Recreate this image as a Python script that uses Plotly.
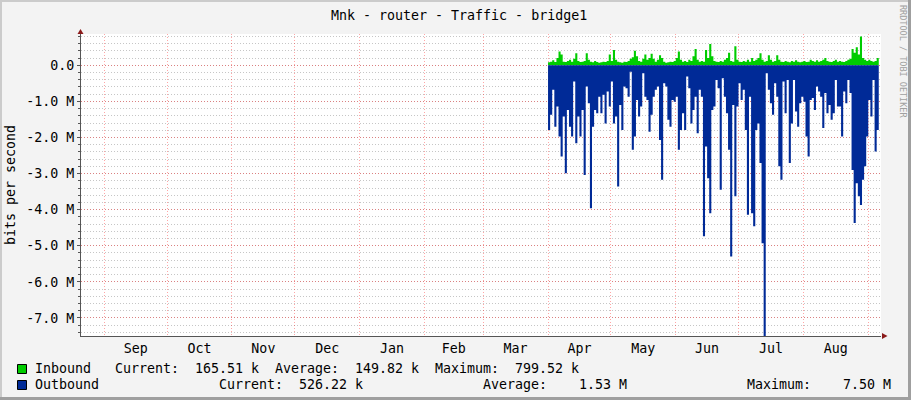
import plotly.graph_objects as go
import pandas as pd

# canvas and plot box (pixels), rrdtool-like layout
W, H = 911, 400
L, R, T, B = 81, 881, 34, 336
FONT = "DejaVu Sans Mono, monospace"

title = "Mnk - router - Traffic - bridge1"
y_title = "bits per second"
watermark = "RRDTOOL / TOBI OETIKER"

# daily samples (Mbit/s), starting 1 Apr
inbound_m = [
    0.08, 0.10, 0.14, 0.09, 0.20, 0.38, 0.30, 0.10, 0.09, 0.12,
    0.15, 0.10, 0.18, 0.33, 0.12, 0.09, 0.10, 0.12, 0.33, 0.15,
    0.10, 0.08, 0.12, 0.09, 0.07, 0.08, 0.10, 0.09, 0.12, 0.30,
    0.12, 0.42, 0.15, 0.10, 0.08, 0.07, 0.10, 0.09, 0.12, 0.18,
    0.22, 0.40, 0.25, 0.12, 0.10, 0.18, 0.30, 0.15, 0.20, 0.32,
    0.18, 0.10, 0.15, 0.28, 0.20, 0.10, 0.07, 0.08, 0.10, 0.09,
    0.12, 0.20, 0.38, 0.15, 0.10, 0.12, 0.09, 0.15, 0.12, 0.25,
    0.45, 0.15, 0.10, 0.12, 0.10, 0.42, 0.20, 0.59, 0.25, 0.12,
    0.10, 0.09, 0.12, 0.10, 0.15, 0.20, 0.35, 0.12, 0.10, 0.53,
    0.15, 0.10, 0.09, 0.12, 0.10, 0.15, 0.10, 0.20, 0.12, 0.15,
    0.20, 0.33, 0.15, 0.10, 0.12, 0.28, 0.15, 0.10, 0.12, 0.28,
    0.15, 0.10, 0.09, 0.12, 0.10, 0.08, 0.12, 0.10, 0.14, 0.10,
    0.08, 0.10, 0.12, 0.09, 0.10, 0.15, 0.12, 0.10, 0.14, 0.10,
    0.12, 0.15, 0.20, 0.12, 0.10, 0.09, 0.12, 0.15, 0.10, 0.12,
    0.10, 0.09, 0.12, 0.15, 0.18, 0.45, 0.35, 0.50, 0.30, 0.80,
    0.20, 0.15, 0.12, 0.15, 0.12, 0.10, 0.12, 0.20, 0.17,
]
outbound_m = [
    1.79, 1.37, 0.68, 1.70, 1.14, 1.97, 2.53, 1.42, 2.99, 1.24,
    1.70, 1.97, 0.45, 2.16, 1.42, 1.97, 1.24, 3.04, 0.59, 1.05,
    3.96, 1.70, 1.24, 1.33, 0.87, 1.33, 0.82, 1.61, 0.73, 1.14,
    0.45, 1.61, 1.42, 3.36, 1.10, 1.79, 0.59, 0.64, 0.87, 0.18,
    2.34, 1.97, 0.96, 1.42, 1.14, 0.22, 0.87, 0.96, 1.84, 1.37,
    0.87, 0.68, 0.59, 2.07, 3.17, 0.50, 0.59, 1.51, 1.70, 0.96,
    1.01, 0.87, 2.34, 1.79, 1.33, 1.79, 0.31, 0.64, 1.61, 1.24,
    0.87, 1.88, 0.68, 0.87, 4.74, 2.25, 3.13, 4.10, 1.24, 1.14,
    0.41, 0.64, 3.45, 0.36, 0.87, 1.33, 2.34, 5.30, 1.10, 3.63,
    1.14, 0.50, 0.96, 0.68, 1.79, 4.14, 0.87, 4.10, 4.46, 1.79,
    1.61, 2.71, 4.93, 7.50, 0.22, 0.68, 1.05, 1.37, 0.50, 0.87,
    2.80, 3.17, 0.45, 1.33, 0.41, 2.71, 1.61, 0.41, 1.28, 1.70,
    1.05, 0.87, 1.01, 1.97, 2.53, 0.96, 0.91, 1.24, 0.59, 0.73,
    0.87, 1.74, 0.77, 1.33, 1.10, 1.51, 1.33, 0.41, 1.14, 1.14,
    1.97, 0.73, 1.05, 0.41, 0.77, 2.90, 4.37, 3.27, 3.63, 3.87,
    3.17, 2.80, 1.97, 0.96, 1.42, 0.41, 2.39, 1.79, 1.42,
]
days = pd.date_range("2017-04-01", periods=len(outbound_m), freq="D")

y_tick_vals = [0, -1, -2, -3, -4, -5, -6, -7]
y_tick_text = ["0.0", "-1.0 M", "-2.0 M", "-3.0 M", "-4.0 M", "-5.0 M", "-6.0 M", "-7.0 M"]

inbound_stats = ["165.51 k", "149.82 k", "799.52 k"]
outbound_stats = ["526.22 k", "1.53 M", "7.50 M"]

GREEN = "#00CC00"
BLUE = "#002A97"


def px(x):
    return (x - L) / (R - L)


def py(y):
    return (B - y) / (B - T)


fig = go.Figure()
fig.add_trace(go.Scatter(
    x=days, y=[v * 1e6 for v in inbound_m], mode="lines", line_shape="hv",
    line=dict(width=0, color=GREEN), fill="tozeroy", fillcolor=GREEN,
    name="Inbound", hoverinfo="skip"))
fig.add_trace(go.Scatter(
    x=days, y=[-v * 1e6 for v in outbound_m], mode="lines", line_shape="hv",
    line=dict(width=0, color=BLUE), fill="tozeroy", fillcolor=BLUE,
    name="Outbound", hoverinfo="skip"))

red_grid = "rgba(255,0,0,0.35)"
gray_grid = "rgba(128,128,128,0.45)"

fig.update_xaxes(
    type="date", range=["2016-08-20 20:53", "2017-09-07 01:40"],
    dtick="M1", tick0="2016-09-01", ticklabelmode="period", tickformat="%b",
    showgrid=True, gridcolor=red_grid, griddash="1px,2px", gridwidth=1,
    showline=True, linecolor="#555555", linewidth=1, ticks="",
    tickfont=dict(family=FONT, size=13.3, color="#000"), zeroline=False,
)
fig.update_yaxes(
    range=[-7.5e6, 0.866e6],
    tickmode="array", tickvals=[v * 1e6 for v in y_tick_vals], ticktext=y_tick_text,
    showgrid=True, gridcolor=red_grid, griddash="1px,2px", gridwidth=1,
    minor=dict(tickmode="linear", tick0=0, dtick=0.2e6, showgrid=True,
               gridcolor=gray_grid, griddash="1px,2px", ticks="outside",
               ticklen=2, tickcolor="#555555"),
    showline=True, linecolor="#555555", linewidth=1,
    ticks="outside", ticklen=3, tickcolor="#555555",
    tickfont=dict(family=FONT, size=13.3, color="#000"), zeroline=False,
)

ann = []
txt = dict(family=FONT, size=13.3, color="#000")
ann.append(dict(x=px(459), y=py(15), text=title, xanchor="center", yanchor="middle"))
ann.append(dict(x=px(10), y=py(185), text=y_title, textangle=-90,
                xanchor="center", yanchor="middle"))
ann.append(dict(x=px(903), y=py(61), text=watermark, textangle=90,
                xanchor="center", yanchor="middle",
                font=dict(family=FONT, size=8.5, color="#a0a0a0")))

# legend rows, monospaced columns
CW = 8.0
row1 = [(0, "Inbound"), (10, "Current:"), (20, inbound_stats[0]),
        (30, "Average:"), (40, inbound_stats[1]), (50, "Maximum:"), (60, inbound_stats[2])]
row2 = [(0, "Outbound"), (23, "Current:"), (33, outbound_stats[0]),
        (56, "Average:"), (68, outbound_stats[1]), (89, "Maximum:"), (101, outbound_stats[2])]
for yrow, row in ((368, row1), (384, row2)):
    for col, t in row:
        ann.append(dict(x=px(33 + col * CW), y=py(yrow), text=t,
                        xanchor="left", yanchor="middle"))
for a in ann:
    a.setdefault("font", txt)
    a.update(xref="paper", yref="paper", showarrow=False)

shapes = []
# legend swatches
for yc, col in ((369, GREEN), (385, BLUE)):
    shapes.append(dict(type="rect", xref="paper", yref="paper",
                       x0=px(17.5), x1=px(26.5), y0=py(yc - 4.5), y1=py(yc + 4.5),
                       fillcolor=col, line=dict(color="#000", width=1)))
# axis arrows
def tri(pts):
    return "M " + " L ".join(f"{px(a)},{py(b)}" for a, b in pts) + " Z"

shapes.append(dict(type="path", xref="paper", yref="paper",
                   path=tri([(77.5, 34), (83.5, 34), (80.5, 29)]),
                   fillcolor="#8b1a1a", line=dict(width=0)))
shapes.append(dict(type="path", xref="paper", yref="paper",
                   path=tri([(882, 333), (882, 339), (887.5, 336)]),
                   fillcolor="#8b1a1a", line=dict(width=0)))
# image frame shading
for x0, x1, y0, y1, c in ((0, W, 0, 2, "#cbcbcb"), (0, 2, 0, H, "#cbcbcb"),
                          (W - 3, W, 0, H, "#9f9f9f"), (0, W, H - 3, H, "#9f9f9f")):
    shapes.append(dict(type="rect", xref="paper", yref="paper",
                       x0=px(x0), x1=px(x1), y0=py(y1), y1=py(y0),
                       fillcolor=c, line=dict(width=0), layer="above"))

fig.update_layout(
    width=W, height=H, autosize=False,
    margin=dict(l=L, r=W - R, t=T, b=H - B, pad=0),
    paper_bgcolor="#F3F3F3", plot_bgcolor="#FFFFFF",
    showlegend=False, annotations=ann, shapes=shapes,
    font=dict(family=FONT, size=13.3, color="#000"),
)

# drop the browser's default page margin so the figure sits at 0,0
fig.write_html("out.html", config={"displayModeBar": False},
               post_script="document.body.style.margin='0';document.body.style.overflow='hidden';")
